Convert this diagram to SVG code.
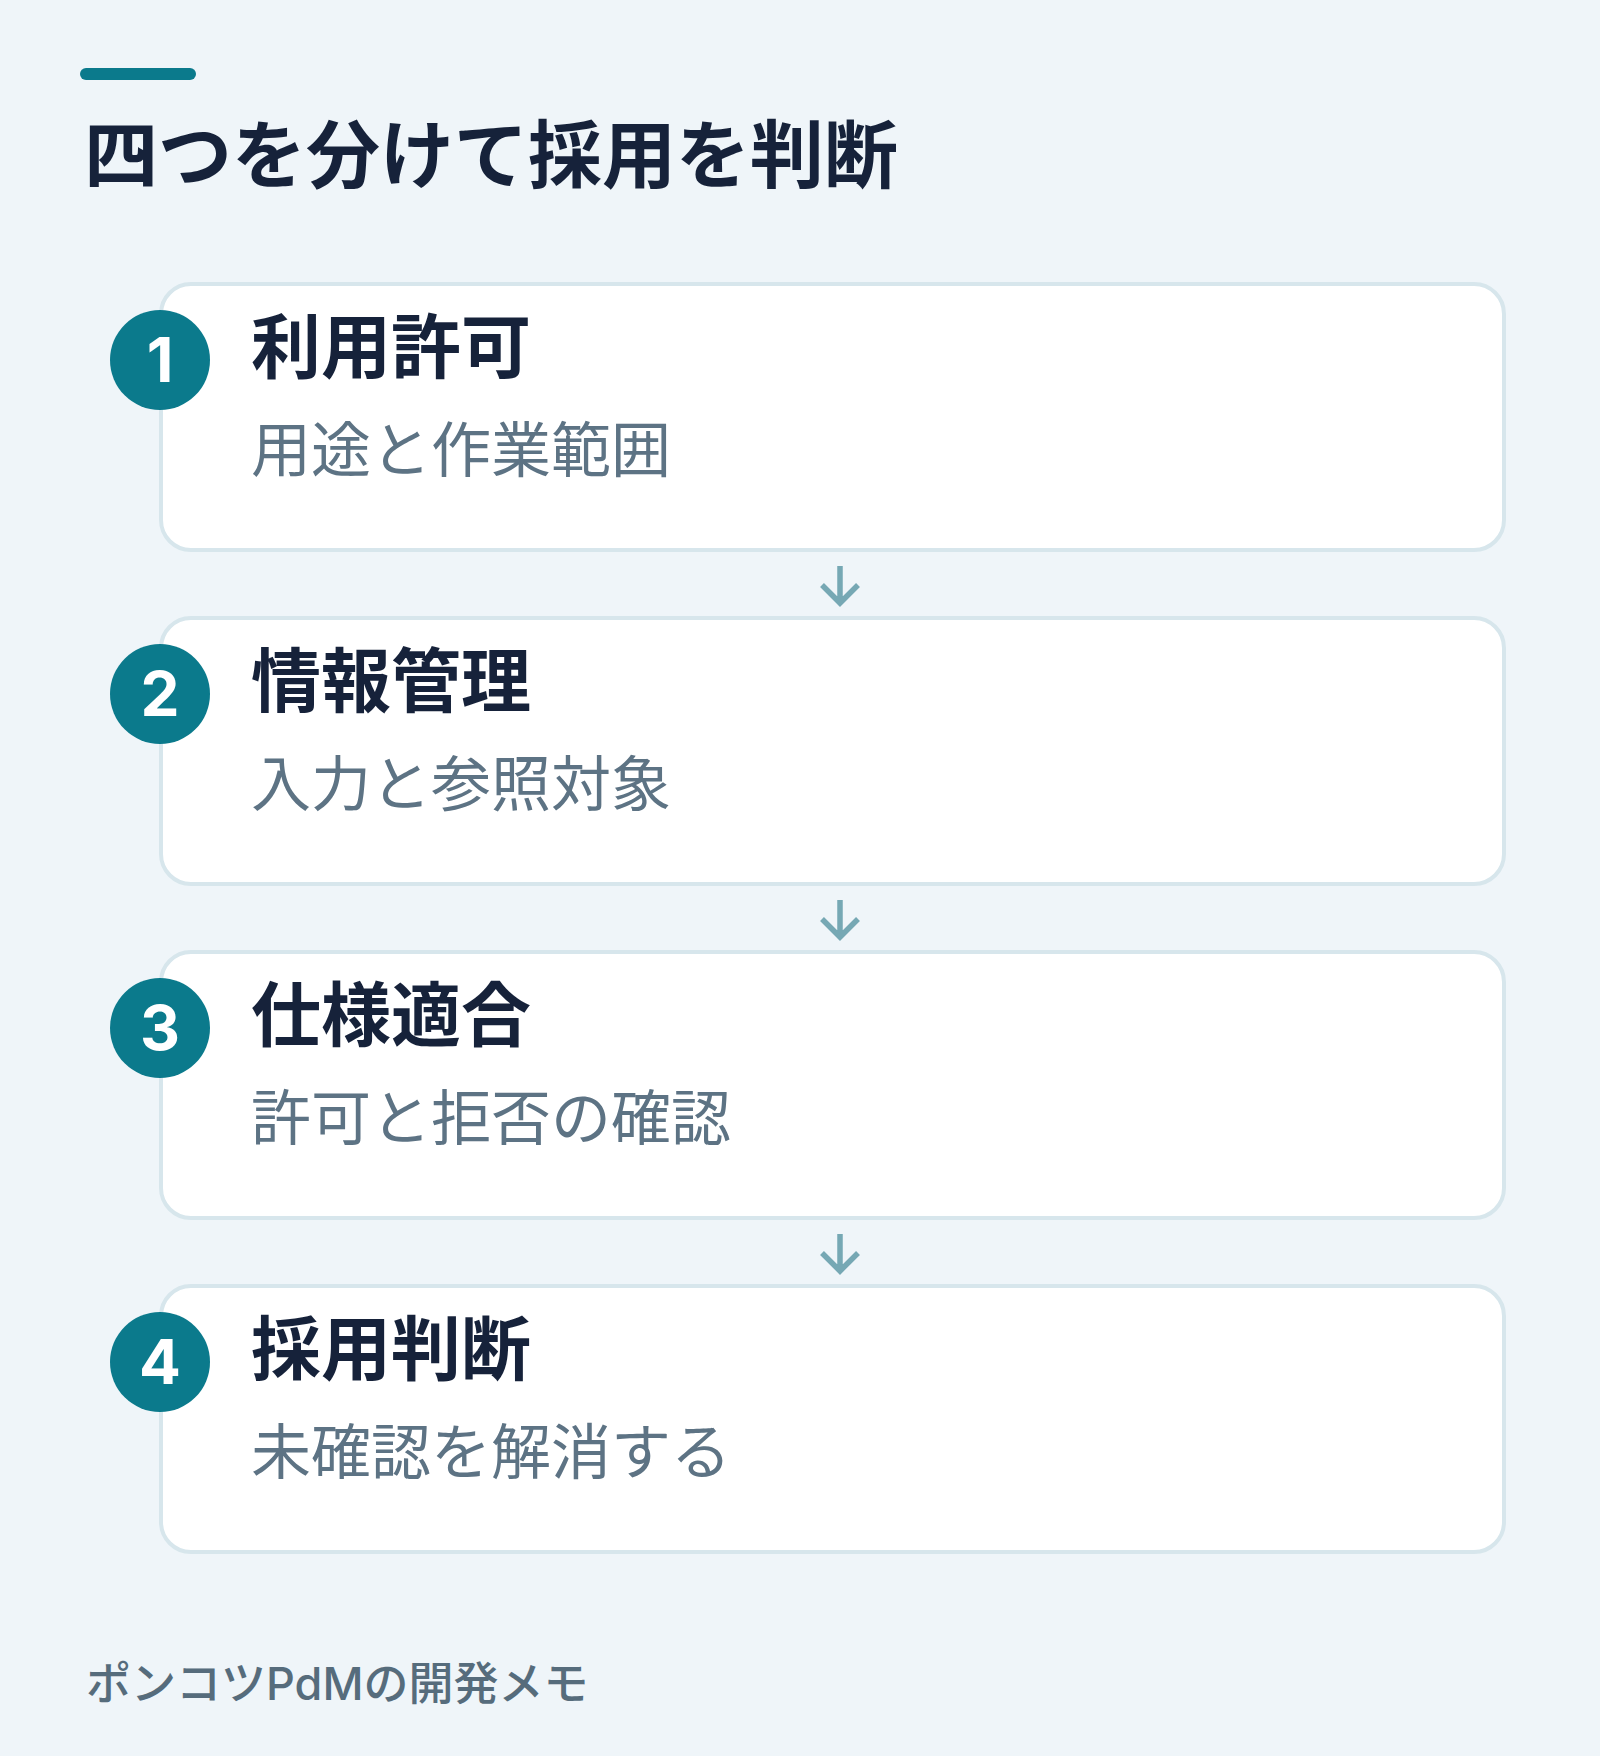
<svg xmlns="http://www.w3.org/2000/svg" width="1600" height="1756" viewBox="0 0 1600 1756">
<style>
.bg{fill:#eff5f9}
.card{fill:#ffffff;stroke:#d7e6ec;stroke-width:4}
.badge{fill:#0b7a8c}
.num{font-family:Inter,"Noto Sans CJK JP",sans-serif;font-weight:700;font-size:62px;fill:#ffffff;text-anchor:middle}
.head{font-family:Inter,"Noto Sans CJK JP",sans-serif;font-weight:700;font-size:70px;fill:#16223a}
.sub{font-family:Inter,"Noto Sans CJK JP",sans-serif;font-weight:400;font-size:60px;fill:#5d7384}
.title{font-family:Inter,"Noto Sans CJK JP",sans-serif;font-weight:700;font-size:74px;fill:#16223a}
.foot{font-family:Inter,"Noto Sans CJK JP",sans-serif;font-weight:500;font-size:45px;fill:#566c7c}
.arrow{fill:none;stroke:#76a8b4;stroke-width:5.5;stroke-linecap:butt;stroke-linejoin:miter}
</style>
<rect class="bg" x="0" y="0" width="1600" height="1756"/>
<g id="header">
<rect x="80" y="68" width="116" height="12" rx="6" fill="#0b7a8c"/>
<text class="title" x="84" y="182">四つを分けて採用を判断</text>
</g>
<g id="step1">
<rect class="card" x="161" y="284" width="1343" height="266" rx="30"/>
<circle class="badge" cx="160" cy="360" r="50"/>
<text class="num" x="160" y="382">1</text>
<text class="head" x="251" y="373">利用許可</text>
<text class="sub" x="251" y="472">用途と作業範囲</text>
</g>
<g id="step2">
<rect class="card" x="161" y="618" width="1343" height="266" rx="30"/>
<circle class="badge" cx="160" cy="694" r="50"/>
<text class="num" x="160" y="716">2</text>
<text class="head" x="251" y="707">情報管理</text>
<text class="sub" x="251" y="806">入力と参照対象</text>
</g>
<g id="step3">
<rect class="card" x="161" y="952" width="1343" height="266" rx="30"/>
<circle class="badge" cx="160" cy="1028" r="50"/>
<text class="num" x="160" y="1050">3</text>
<text class="head" x="251" y="1041">仕様適合</text>
<text class="sub" x="251" y="1140">許可と拒否の確認</text>
</g>
<g id="step4">
<rect class="card" x="161" y="1286" width="1343" height="266" rx="30"/>
<circle class="badge" cx="160" cy="1362" r="50"/>
<text class="num" x="160" y="1384">4</text>
<text class="head" x="251" y="1375">採用判断</text>
<text class="sub" x="251" y="1474">未確認を解消する</text>
</g>
<g id="connectors">
<path class="arrow" d="M840 566 V603 M822 585 L840 603 L858 585"/>
<path class="arrow" d="M840 900 V937 M822 919 L840 937 L858 919"/>
<path class="arrow" d="M840 1234 V1271 M822 1253 L840 1271 L858 1253"/>
</g>
<g id="footer">
<text class="foot" x="86" y="1700">ポンコツPdMの開発メモ</text>
</g>
</svg>
